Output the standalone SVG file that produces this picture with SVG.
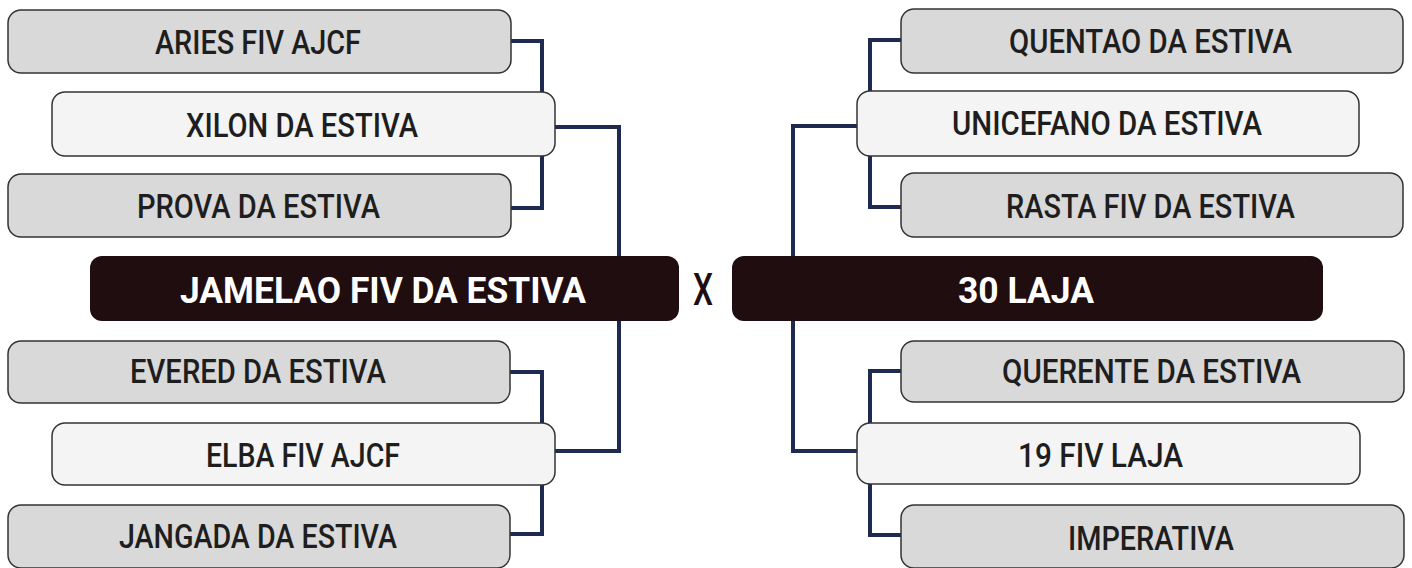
<svg xmlns="http://www.w3.org/2000/svg" width="1412" height="568" viewBox="0 0 1412 568">
<style>
.g{fill:#d9d9d9;stroke:#333;stroke-width:1.5}
.l{fill:#f4f4f4;stroke:#333;stroke-width:1.5}
.d{fill:#200d0f}
.t{font-family:Roboto,"Liberation Sans",sans-serif;font-weight:500;font-size:32.5px;fill:#1e1e1e}
.w{font-family:Roboto,"Liberation Sans",sans-serif;font-weight:700;font-size:36px;fill:#ffffff}
.c{fill:none;stroke:#1f2a50;stroke-width:4}
</style>
<rect width="1412" height="568" fill="#ffffff"/>
<g id="connectors">
<path class="c" d="M511 41H542V208H511"/>
<path class="c" d="M555 127H619V451H555"/>
<path class="c" d="M510 372H542V534H510"/>
<path class="c" d="M901 40H870V207H901"/>
<path class="c" d="M857 126H793V451H857"/>
<path class="c" d="M901 371H870V535H901"/>
</g>
<g id="aries"><rect class="g" x="8" y="10" width="503" height="63" rx="13"/><text class="t" x="155" y="54" textLength="206" lengthAdjust="spacingAndGlyphs">ARIES FIV AJCF</text></g>
<g id="xilon"><rect class="l" x="52" y="92" width="503" height="64" rx="13"/><text class="t" x="186" y="137" textLength="232" lengthAdjust="spacingAndGlyphs">XILON DA ESTIVA</text></g>
<g id="prova"><rect class="g" x="8" y="174" width="503" height="63" rx="13"/><text class="t" x="137" y="218" textLength="243" lengthAdjust="spacingAndGlyphs">PROVA DA ESTIVA</text></g>
<g id="jamelao"><rect class="d" x="90" y="256" width="589" height="65" rx="12"/><text class="w" x="180" y="303" textLength="406" lengthAdjust="spacingAndGlyphs">JAMELAO FIV DA ESTIVA</text></g>
<g id="versus"><text x="693" y="305" font-family="Roboto,'Liberation Sans',sans-serif" font-weight="500" font-size="44" fill="#200d0f" textLength="20" lengthAdjust="spacingAndGlyphs">X</text></g>
<g id="evered"><rect class="g" x="8" y="341" width="502" height="62" rx="13"/><text class="t" x="130" y="383" textLength="256" lengthAdjust="spacingAndGlyphs">EVERED DA ESTIVA</text></g>
<g id="elba"><rect class="l" x="52" y="423" width="503" height="62" rx="13"/><text class="t" x="206" y="467" textLength="194" lengthAdjust="spacingAndGlyphs">ELBA FIV AJCF</text></g>
<g id="jangada"><rect class="g" x="8" y="505" width="502" height="63" rx="13"/><text class="t" x="119" y="548" textLength="278" lengthAdjust="spacingAndGlyphs">JANGADA DA ESTIVA</text></g>
<g id="quentao"><rect class="g" x="901" y="9" width="502" height="64" rx="13"/><text class="t" x="1009" y="53" textLength="283" lengthAdjust="spacingAndGlyphs">QUENTAO DA ESTIVA</text></g>
<g id="unicefano"><rect class="l" x="857" y="91" width="502" height="65" rx="13"/><text class="t" x="952" y="135" textLength="310" lengthAdjust="spacingAndGlyphs">UNICEFANO DA ESTIVA</text></g>
<g id="rasta"><rect class="g" x="901" y="173" width="502" height="64" rx="13"/><text class="t" x="1006" y="218" textLength="289" lengthAdjust="spacingAndGlyphs">RASTA FIV DA ESTIVA</text></g>
<g id="laja30"><rect class="d" x="732" y="256" width="591" height="65" rx="12"/><text class="w" x="958" y="303" textLength="136" lengthAdjust="spacingAndGlyphs">30 LAJA</text></g>
<g id="querente"><rect class="g" x="901" y="341" width="503" height="61" rx="13"/><text class="t" x="1002" y="383" textLength="299" lengthAdjust="spacingAndGlyphs">QUERENTE DA ESTIVA</text></g>
<g id="laja19"><rect class="l" x="857" y="423" width="503" height="61" rx="13"/><text class="t" x="1018" y="467" textLength="165" lengthAdjust="spacingAndGlyphs">19 FIV LAJA</text></g>
<g id="imperativa"><rect class="g" x="901" y="505" width="503" height="63" rx="13"/><text class="t" x="1068" y="550" textLength="166" lengthAdjust="spacingAndGlyphs">IMPERATIVA</text></g>
</svg>
